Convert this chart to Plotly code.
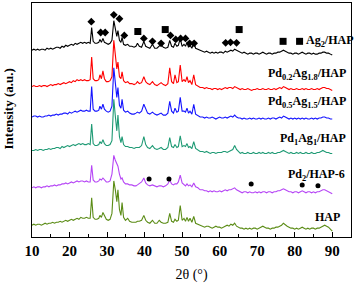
import plotly.graph_objects as go

# ---- sampling grid (2θ, degrees) ----
grid_a = [10.0 + 0.5 * i for i in range(32)]          # 10.0 .. 25.5
grid_b = [25.9, 26.3, 26.8, 27.3, 27.8, 28.1, 28.5, 28.9, 29.3, 29.8,
          30.3, 30.8, 31.3, 31.8, 32.2, 32.6, 32.9, 33.3, 33.7, 34.0,
          34.4, 34.9, 35.5, 36.0, 36.6, 37.2, 37.7, 38.1, 38.6, 39.2,
          39.8, 40.3, 40.8, 41.4, 42.1, 42.7, 43.3, 43.9, 44.4, 45.0,
          45.6, 46.2, 46.7, 47.2, 47.7, 48.1, 48.6, 49.0, 49.5, 50.0,
          50.5, 50.9, 51.3, 51.7, 52.1, 52.6, 53.1, 53.6, 54.2, 54.8]
grid_c = [55.5 + 0.5 * i for i in range(70)]          # 55.5 .. 90.0
two_theta = grid_a + grid_b + grid_c

# ---- intensities (a.u., relative to each pattern's own zero) ----
ag2_hap = [0,1,0,1,0,1,1,0,2,1, 2,1,2,3,3,2,4,3,5,4, 5,6,5,7,6,7,8,7,8,7, 8,7,
           23,9,7,7,8,11,8,12,8,7,
           6,7,10,30,22,14,20,10,8,13,
           6,5,6,4,4,3,4,7,4,3,
           9,4,3,2,6,2,2,4,6,3,
           2,3,10,4,3,7,4,5,12,4,
           6,4,8,3,5,2,8,2,1,0,
           -1,-2,-1,-2,-3,-2,-3,-2,-3,-2,
           -2,-3,-1,-2,-1,0,-1,1,0,-1,
           -2,-3,-2,-3,-4,-3,-3,-4,-3,-3,
           -4,-3,-2,-3,-4,-3,-3,-4,-3,-3,
           -2,-2,-1,0,-1,-2,-3,-3,-4,-3,
           -3,-4,-3,-2,-3,-4,-3,-3,-4,-3,
           -4,-4,-3,-3,-2,-2,-3,-3,-4,-5]

pd02ag18_hap = [0,1,0,0,1,0,1,1,0,1, 2,1,2,2,3,2,3,4,3,4, 5,4,6,5,7,6,7,6,7,6, 6,7,
                30,8,6,6,7,12,8,16,8,5,
                5,6,10,47,32,18,25,10,8,15,
                6,4,5,3,3,2,3,5,3,4,
                10,5,3,2,5,2,1,3,4,2,
                1,3,19,5,3,12,4,5,22,5,
                7,5,10,4,6,2,12,2,0,-1,
                -1,-2,-1,-2,-2,-3,-2,-2,-3,-2,
                -3,-2,-1,-2,-1,-1,-2,0,-1,-2,
                -3,-2,-3,-3,-2,-3,-4,-3,-3,-2,
                -3,-3,-2,-3,-3,-2,-3,-3,-2,-3,
                -2,-1,-2,0,-1,-2,-3,-2,-3,-3,
                -2,-3,-3,-2,-3,-2,-3,-3,-2,-3,
                -3,-2,-3,-2,-1,-1,-2,-2,-3,-4]

pd05ag15_hap = [0,1,1,0,1,0,0,1,1,2, 1,2,2,3,2,3,3,4,4,3, 5,4,5,6,5,6,7,6,6,7, 6,6,
                31,8,6,6,7,11,8,13,8,6,
                5,6,11,50,36,20,30,12,9,18,
                7,5,6,4,3,3,4,5,4,6,
                13,8,4,3,5,3,2,3,4,2,
                2,4,16,6,4,9,5,6,20,6,
                6,5,9,4,6,3,13,3,1,0,
                0,-1,0,-1,-1,0,-1,-2,-1,0,
                -1,-1,0,-1,0,1,0,2,0,-1,
                -1,-2,-1,-2,-2,-1,-2,-1,-2,-2,
                -1,-2,-1,-2,-2,-1,-2,-1,-1,-2,
                -1,0,-1,1,0,-1,-2,-1,-2,-1,
                -2,-1,-2,-1,-2,-1,-2,-2,-1,-2,
                -1,-2,-1,-1,0,0,-1,-1,-2,-2]

pd1ag1_hap = [0,0,1,0,1,1,0,1,1,2, 1,2,2,3,3,2,4,3,4,5, 4,5,6,5,6,7,6,7,6,6, 7,6,
              27,7,5,5,6,9,7,11,7,5,
              5,6,10,52,35,20,36,14,8,14,
              6,4,4,3,3,2,3,3,3,5,
              14,6,3,2,5,2,1,2,3,1,
              1,3,13,4,3,6,3,4,15,4,
              5,4,7,3,4,2,9,2,0,-1,
              -1,-2,-1,-2,-3,-2,-2,-3,-2,-2,
              -2,-1,-1,-2,-1,0,1,5,1,-1,
              -3,-2,-3,-3,-2,-3,-3,-2,-3,-3,
              -2,-3,-2,-3,-3,-2,-3,-2,-3,-3,
              -2,-2,-1,0,-1,-2,-3,-2,-3,-3,
              -2,-3,-2,-3,-3,-2,-3,-3,-2,-3,
              -3,-2,-2,-1,0,-1,-2,-2,-3,-3]

pd2_hap6 = [0,1,0,1,1,0,1,1,2,1, 2,2,3,2,3,3,4,4,5,4, 5,6,5,6,7,6,7,7,6,7, 6,6,
            23,8,6,6,7,9,8,10,8,6,
            6,7,14,33,28,24,22,14,9,10,
            6,4,4,3,3,2,2,3,4,6,
            10,5,3,2,3,2,1,2,2,1,
            2,4,8,4,3,4,4,6,13,5,
            3,2,4,2,3,1,5,1,0,-2,
            -2,-3,-3,-4,-3,-4,-3,-4,-4,-3,
            -4,-3,-2,-3,-2,-2,-1,0,-2,-3,
            -4,-5,-4,-4,-5,-4,-5,-5,-4,-5,
            -4,-5,-4,-4,-5,-4,-4,-5,-4,-4,
            -3,-3,-2,-1,-2,-3,-4,-4,-5,-4,
            -4,-5,-4,-3,-4,-5,-4,-4,-5,-4,
            -5,-4,-4,-3,-2,-2,-3,-4,-5,-6]

hap = [0,1,0,1,1,0,1,2,1,2, 2,3,2,3,3,4,3,4,5,4, 5,6,5,6,7,6,8,7,7,8, 7,7,
       28,8,6,6,7,10,8,13,9,6,
       5,6,12,45,36,24,36,16,10,23,
       8,5,7,4,3,3,3,4,4,5,
       10,5,3,2,5,2,2,5,3,2,
       2,3,12,4,3,6,4,5,20,5,
       7,4,8,4,7,3,9,2,1,0,
       -1,-2,-1,-1,-2,-3,-2,-1,-2,-2,
       -3,-2,-1,0,-1,1,0,2,-1,-2,
       -3,-3,-4,-3,-4,-3,-4,-3,-3,-4,
       -3,-2,-1,-2,-3,-3,-4,-3,-3,-2,
       -2,-1,0,2,0,-1,-2,-3,-3,-4,
       -3,-4,-3,-2,-3,-4,-3,-4,-3,-3,
       -4,-3,-3,-2,-1,0,-1,-2,-4,-6]

series_values = [ag2_hap, pd02ag18_hap, pd05ag15_hap, pd1ag1_hap, pd2_hap6, hap]
series_labels = ["Ag<sub>2</sub>/HAP",
                 "Pd<sub>0.2</sub>Ag<sub>1.8</sub>/HAP",
                 "Pd<sub>0.5</sub>Ag<sub>1.5</sub>/HAP",
                 "Pd<sub>1</sub>Ag<sub>1</sub>/HAP",
                 "Pd<sub>2</sub>/HAP-6",
                 "HAP"]
x_ticks = [10, 20, 30, 40, 50, 60, 70, 80, 90]

# phase markers (2θ, stacked intensity)
diamond_x = [25.8, 28.3, 29.5, 31.8, 33.3, 34.6, 39.8, 42.1, 44.4, 46.9,
             48.3, 49.6, 50.9, 52.0, 53.2, 61.6, 62.9, 64.5]
diamond_y = [219, 208, 208, 226, 222, 205, 202, 199, 197, 205,
             201, 202, 202, 197, 197, 197.5, 198, 197.5]
square_x = [38.2, 45.5, 65.2, 76.9, 81.3]
square_y = [209, 211, 211, 199, 199]
dot_x = [41.2, 46.5, 68.4, 82.0, 86.2]
dot_y = [59, 59, 54, 53, 52]

# ---- styling ----
offsets = [190, 153, 122, 88, 50, 12]
colors = ["#000000", "#ff0000", "#1414ff", "#1e9a74", "#b646f5", "#5b8c16"]
label_pos = [(82.4, 199, "left"), (94.2, 166, "right"), (94.2, 137, "right"),
             (94.2, 100, "right"), (94.0, 63, "right"), (92.6, 20, "right")]
serif = "Liberation Serif"

fig = go.Figure()
for vals, off, col in zip(series_values, offsets, colors):
    fig.add_trace(go.Scatter(x=two_theta, y=[v + off for v in vals], mode="lines",
                             line=dict(color=col, width=1.1), hoverinfo="skip",
                             showlegend=False))

fig.add_trace(go.Scatter(x=diamond_x, y=diamond_y, mode="markers",
                         marker=dict(symbol="diamond", size=6, color="black"),
                         showlegend=False))
fig.add_trace(go.Scatter(x=square_x, y=square_y, mode="markers",
                         marker=dict(symbol="square", size=7, color="black"),
                         showlegend=False))
fig.add_trace(go.Scatter(x=dot_x, y=dot_y, mode="markers",
                         marker=dict(symbol="circle", size=5, color="black"),
                         showlegend=False))

for text, (lx, ly, anchor) in zip(series_labels, label_pos):
    fig.add_annotation(x=lx, y=ly, text="<b>" + text + "</b>", showarrow=False,
                       xanchor=anchor, yanchor="middle",
                       font=dict(family=serif, size=12, color="black"))

# y-axis title (placed slightly above the vertical centre, as in the reference)
fig.add_annotation(xref="paper", yref="paper", x=0, y=0.545, xshift=-24,
                   text="<b>Intensity (a.u.)</b>", textangle=-90, showarrow=False,
                   xanchor="center", yanchor="middle",
                   font=dict(family=serif, size=13, color="black"))

fig.update_layout(
    width=354, height=283,
    margin=dict(l=32, r=3, t=2, b=43),
    paper_bgcolor="white", plot_bgcolor="white",
    font=dict(family=serif, color="black"),
    xaxis=dict(range=[10, 95], tickvals=x_ticks, ticks="inside", ticklen=5,
               tickcolor="black", showline=True, linecolor="black", linewidth=1,
               mirror=True, showgrid=False, zeroline=False,
               tickfont=dict(family=serif, size=15, color="black", weight="bold"),
               minor=dict(tickvals=[15, 25, 35, 45, 55, 65, 75, 85],
                          ticks="inside", ticklen=3, tickcolor="black"),
               title=dict(text="2θ (°)", font=dict(family=serif, size=14, color="black"),
                          standoff=12)),
    yaxis=dict(range=[0, 238], showticklabels=False, ticks="", showline=True,
               linecolor="black", linewidth=1, mirror=True, showgrid=False,
               zeroline=False),
)

fig.write_html("out.html", config={"displayModeBar": False},
               post_script="document.body.style.margin='0';document.body.style.overflow='hidden';")
